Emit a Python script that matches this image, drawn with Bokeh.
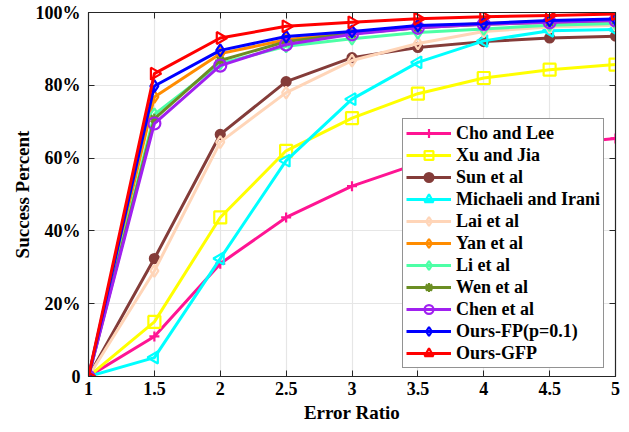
import numpy as np
from bokeh.plotting import figure
from bokeh.models import (LinearAxis, FixedTicker, Legend, LegendItem, Range1d,
                          CustomLabelingPolicy)
from bokeh.embed import file_html
from bokeh.resources import INLINE

x_vals = [1, 1.5, 2, 2.5, 3, 3.5, 4, 4.5, 5]
cho_lee = [0, 11, 31, 43.7, 52.3, 58.5, 61.5, 63.7, 65.4]
xu_jia = [0, 15, 43.7, 62, 71, 77.7, 82, 84.3, 85.7]
sun = [0, 32.4, 66.5, 81, 87.6, 90.4, 92, 93, 93.5]
michaeli = [0, 5.2, 32.4, 59.3, 76.2, 86.3, 92.2, 95, 95.3]
lai = [0, 29, 64.4, 78, 86.8, 91.5, 94.8, 96, 96.5]
yan = [0, 76.8, 88.7, 92.5, 94.5, 96, 97, 97.5, 98]
li = [0, 72, 86, 90.7, 92.8, 94.5, 95.5, 96.5, 97]
wen = [0, 70.8, 86.8, 92, 94.2, 95.8, 96.8, 97.3, 97.8]
chen = [0, 69.5, 85.4, 91.2, 94, 95.8, 96.8, 97.3, 97.8]
ours_fp = [0, 79.8, 89.6, 93.4, 94.8, 96.4, 97, 97.8, 98.2]
ours_gfp = [0, 83.2, 93, 96.2, 97.3, 98.3, 98.8, 99.2, 99.6]

x_ticks = [1, 1.5, 2, 2.5, 3, 3.5, 4, 4.5, 5]
y_ticks = [0, 20, 40, 60, 80, 100]
y_tick_labels = ["0", "20%", "40%", "60%", "80%", "100%"]

FONT = "Liberation Serif"

p = figure(width=629, height=432, output_backend="svg", toolbar_location=None,
           x_range=Range1d(1, 5), y_range=Range1d(0, 100),
           min_border_left=88, min_border_right=14, min_border_top=12,
           min_border_bottom=56)
p.outline_line_color = "#262626"
p.outline_line_width = 1.2

for ax in [p.xaxis[0], p.yaxis[0]]:
    ax.major_label_text_font = FONT
    ax.major_label_text_font_style = "bold"
    ax.major_label_text_font_size = "18px"
    ax.major_label_text_color = "black"
    ax.axis_label_text_font = FONT
    ax.axis_label_text_font_style = "bold"
    ax.axis_label_text_font_size = "19px"
    ax.axis_label_text_color = "black"
    ax.major_tick_in = 6
    ax.major_tick_out = 0
    ax.minor_tick_in = 0
    ax.minor_tick_out = 0
    ax.axis_line_color = "#262626"
    ax.major_tick_line_color = "#262626"

p.xaxis.ticker = FixedTicker(ticks=x_ticks)
p.yaxis.ticker = FixedTicker(ticks=y_ticks)
p.yaxis.major_label_overrides = {t: l for t, l in zip(y_ticks, y_tick_labels)}
p.xaxis.axis_label = "Error Ratio"
p.yaxis.axis_label = "Success Percent"
p.xaxis.major_label_standoff = 5
p.yaxis.major_label_standoff = 8
p.xaxis.axis_label_standoff = 4
p.yaxis.axis_label_standoff = 0

no_labels = CustomLabelingPolicy(code="""
    for (const i of Array.from(indices)) { indices.unset(i) }
    return indices
""")
for loc, tick in [("right", y_ticks), ("above", x_ticks)]:
    ax = LinearAxis(ticker=FixedTicker(ticks=tick),
                    major_label_policy=no_labels,
                    major_label_text_font_size="1px",
                    major_label_standoff=0, axis_label_standoff=0,
                    major_tick_in=6, major_tick_out=0, minor_tick_in=0, minor_tick_out=0,
                    axis_line_color="#262626", major_tick_line_color="#262626")
    p.add_layout(ax, loc)

p.xgrid.ticker = FixedTicker(ticks=x_ticks)
p.ygrid.ticker = FixedTicker(ticks=y_ticks)
p.grid.grid_line_color = "#e6e6e6"
p.grid.grid_line_width = 1.2

series = [
    ("Cho and Lee", cho_lee, "#ff1493", "cross", 0, False),
    ("Xu and Jia", xu_jia, "#ffff00", "square", 0, False),
    ("Sun et al", sun, "#843c39", "circle", 0, True),
    ("Michaeli and Irani", michaeli, "#00ffff", "triangle", np.pi / 2, False),
    ("Lai et al", lai, "#ffd5b8", "diamond", 0, False),
    ("Yan et al", yan, "#ff8c00", "diamond", 0, False),
    ("Li et al", li, "#4dffa6", "diamond", 0, False),
    ("Wen et al", wen, "#6b8e23", "asterisk", 0, False),
    ("Chen et al", chen, "#a020f0", "circle", 0, False),
    ("Ours-FP(p=0.1)", ours_fp, "#0000ff", "diamond", 0, False),
    ("Ours-GFP", ours_gfp, "#ff0000", "triangle", -np.pi / 2, False),
]

items = []
for name, ys, color, marker, angle, filled in series:
    r1 = p.line(x_vals, ys, line_color=color, line_width=3)
    size = 12 if marker not in ("cross", "asterisk") else 10
    if marker == "circle" and filled:
        size = 9
    r2 = p.scatter(x_vals, ys, marker=marker, size=size, angle=angle,
                   angle_units="rad", line_color=color, line_width=2.2,
                   fill_color=color if filled else None)
    items.append(LegendItem(label=name, renderers=[r1, r2]))

legend = Legend(items=items, location=(314, 8))
legend.label_text_font = FONT
legend.label_text_font_style = "bold"
legend.label_text_font_size = "18px"
legend.label_text_color = "black"
legend.glyph_width = 45
legend.glyph_height = 22
legend.label_height = 22
legend.spacing = 0
legend.padding = 3
legend.margin = 0
legend.label_standoff = 5
legend.border_line_color = "#262626"
legend.border_line_width = 1
legend.background_fill_alpha = 1
p.add_layout(legend, "center")

open("out.html", "w").write(file_html(p, INLINE))
